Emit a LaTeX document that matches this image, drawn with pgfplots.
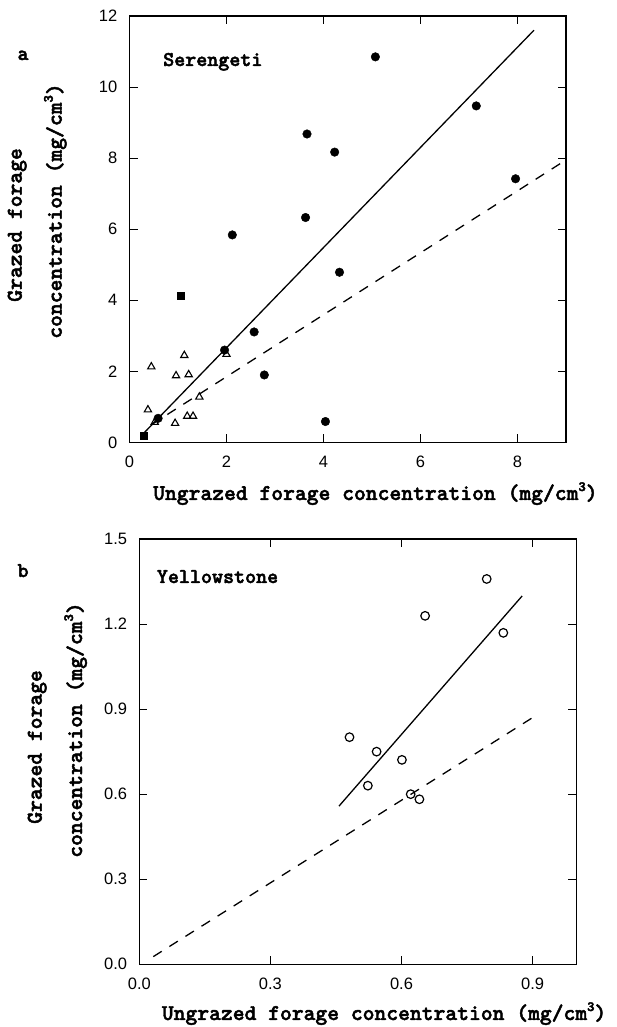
\documentclass[border=0pt]{standalone}
\usepackage{fontspec}
\setmainfont{Liberation Sans}
\usepackage{pgfplots}
\pgfplotsset{compat=1.18}
\newcommand{\heavy}[1]{\special{pdf:literal direct 0.45 w 2 Tr}#1\special{pdf:literal direct 0 Tr}}
\newcommand{\tw}{\fontsize{22.5}{26}\selectfont\ttfamily\bfseries}
\newcommand{\tws}{\fontsize{21}{24}\selectfont\ttfamily\bfseries}
\newcommand{\cubed}{\raisebox{9pt}{\fontsize{14}{16}\selectfont 3}}
\begin{document}
\begin{tikzpicture}[x=1pt,y=1pt]
\useasboundingbox (0,0) rectangle (616,1027);
\pgfplotsset{
 myax/.style={scale only axis, axis line style={line width=1.3pt},
  every tick/.style={black, line width=1.1pt}, tick align=inside, major tick length=8pt,
  ticklabel style={font=\fontsize{16.5}{18}\selectfont, inner sep=0pt},
  /pgf/number format/assume math mode=true,
  xticklabel style={anchor=north, yshift=-13pt},
  yticklabel style={anchor=east, xshift=-12pt},
  clip=false},
}
% ---------- panel a ----------
\begin{axis}[myax, at={(129.5pt,584.5pt)}, anchor=south west,
  width=436.5pt, height=426.5pt,
  xmin=0, xmax=9, ymin=0, ymax=12,
  xtick={0,2,4,6,8}, ytick={0,2,4,6,8,10,12}]
\addplot[line width=1.3pt] coordinates {(0.30,0.27) (8.34,11.6)};
\addplot[line width=1.3pt, dash pattern=on 10pt off 9pt] coordinates {(0.45,0.50) (9,7.95)};
\addplot[only marks, mark=*, mark size=4.3pt, black] coordinates {
(5.07,10.85) (7.15,9.47) (3.66,8.68) (4.23,8.17) (7.96,7.42) (3.63,6.33)
(2.12,5.84) (4.33,4.79) (2.57,3.11) (1.96,2.60) (2.78,1.90) (4.04,0.59) (0.59,0.68)};
\addplot[only marks, mark=square*, mark size=3.5pt, black] coordinates {(1.05,4.13) (0.30,0.20)};
\addplot[only marks, mark=triangle, mark size=4.2pt, black, mark options={line width=1.1pt}] coordinates {
(0.45,2.13) (1.13,2.45) (0.96,1.88) (1.22,1.91) (2.00,2.48) (1.44,1.28)
(0.38,0.92) (0.52,0.57) (0.94,0.54) (1.19,0.74) (1.31,0.74)};
\end{axis}
% ---------- panel b ----------
\begin{axis}[myax, at={(139.3pt,62.7pt)}, anchor=south west,
  width=437pt, height=425.3pt,
  xmin=0, xmax=1.0, ymin=0, ymax=1.5,
  xtick={0,0.3,0.6,0.9}, ytick={0,0.3,0.6,0.9,1.2,1.5},
  xticklabel style={/pgf/number format/.cd, fixed, fixed zerofill, precision=1},
  yticklabel style={/pgf/number format/.cd, fixed, fixed zerofill, precision=1}]
\addplot[line width=1.3pt] coordinates {(0.457,0.558) (0.876,1.299)};
\addplot[line width=1.3pt, dash pattern=on 10pt off 9pt] coordinates {(0.032,0.027) (0.90,0.870)};
\addplot[only marks, mark=o, mark size=4.3pt, black, mark options={line width=1.2pt}] coordinates {
(0.795,1.359) (0.654,1.229) (0.833,1.169) (0.481,0.801) (0.543,0.750)
(0.601,0.721) (0.523,0.630) (0.621,0.600) (0.641,0.582)};
\end{axis}
% ---------- texts ----------
\node[anchor=base west, inner sep=0pt] at (17.3,967) {\tws\heavy{a}};
\node[anchor=base west, inner sep=0pt] at (163,961) {\tws\heavy{Serengeti}};
\node[rotate=90, anchor=base, inner sep=0pt] at (21.7,802) {\tw\heavy{Grazed forage}};
\node[rotate=90, anchor=base, inner sep=0pt] at (61.7,816) {\tw\heavy{concentration (mg/cm\cubed)}};
\node[anchor=base west, inner sep=0pt] at (153,527) {\tw\heavy{Ungrazed forage concentration (mg/cm\cubed)}};
\node[anchor=base west, inner sep=0pt] at (17.3,450) {\tws\heavy{b}};
\node[anchor=base west, inner sep=0pt] at (156.7,444) {\tws\heavy{Yellowstone}};
\node[rotate=90, anchor=base, inner sep=0pt] at (41.7,280) {\tw\heavy{Grazed forage}};
\node[rotate=90, anchor=base, inner sep=0pt] at (82,297) {\tw\heavy{concentration (mg/cm\cubed)}};
\node[anchor=base west, inner sep=0pt] at (161.7,7) {\tw\heavy{Ungrazed forage concentration (mg/cm\cubed)}};
\end{tikzpicture}
\end{document}
